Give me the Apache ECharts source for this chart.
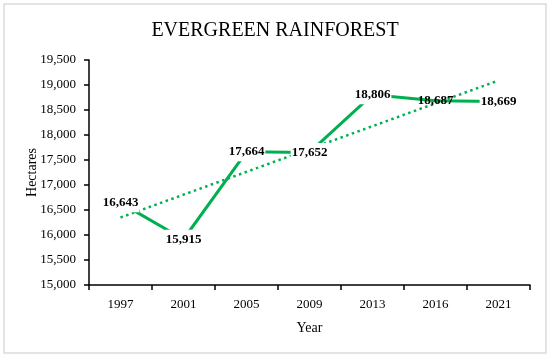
<!DOCTYPE html>
<html>
<head>
<meta charset="utf-8">
<script src="https://cdn.jsdelivr.net/npm/echarts@6/dist/echarts.min.js"></script>
<style>html,body{margin:0;padding:0;background:#fff}#c{width:550px;height:357px}</style>
</head>
<body>
<div id="c"></div>
<script>
const years = ['1997', '2001', '2005', '2009', '2013', '2016', '2021'];
const hectares = [16643, 15915, 17664, 17652, 18806, 18687, 18669];
// linear trendline end values
const trendEnds = [16350, 19090];
const yTicks = { min: 15000, max: 19500, interval: 500 };

const serif = "'Liberation Serif', 'DejaVu Serif', serif";
const green = '#00B050';

const trendData = years.map((y, i) => i === 0 ? trendEnds[0] : (i === years.length - 1 ? trendEnds[1] : '-'));
const lineData = hectares.map((v, i) => ({
  value: v,
  label: i === 5 ? { backgroundColor: 'transparent' } : {}
}));

const chart = echarts.init(document.getElementById('c'));
chart.setOption({
  animation: false,
  backgroundColor: '#fff',
  title: {
    text: 'EVERGREEN RAINFOREST',
    left: 'center',
    top: 16,
    textStyle: { fontFamily: serif, fontSize: 20, fontWeight: 'normal', color: '#000' }
  },
  graphic: [{
    type: 'rect',
    shape: { x: 4, y: 4, width: 542, height: 349 },
    style: { fill: 'none', stroke: '#dcdcdc', lineWidth: 1.5 },
    silent: true, z: -1
  }],
  grid: { left: 89, right: 20, top: 60, bottom: 72, containLabel: false },
  xAxis: {
    type: 'category',
    data: years,
    boundaryGap: true,
    name: 'Year',
    nameLocation: 'middle',
    nameGap: 36,
    nameMoveOverlap: false,
    nameTextStyle: { fontFamily: serif, fontSize: 14, color: '#000' },
    axisLine: { lineStyle: { color: '#000', width: 1.5 } },
    axisTick: { show: true, length: 5, alignWithLabel: false, lineStyle: { color: '#000', width: 1.5 } },
    axisLabel: { fontFamily: serif, fontSize: 13, color: '#000', margin: 13 },
    splitLine: { show: false }
  },
  yAxis: {
    type: 'value',
    min: yTicks.min,
    max: yTicks.max,
    interval: yTicks.interval,
    name: 'Hectares',
    nameLocation: 'middle',
    nameGap: 50,
    nameMoveOverlap: false,
    nameTextStyle: { fontFamily: serif, fontSize: 14, color: '#000' },
    axisLine: { show: true, lineStyle: { color: '#000', width: 1.5 } },
    axisTick: { show: true, length: 5, lineStyle: { color: '#000', width: 1.5 } },
    axisLabel: {
      fontFamily: serif, fontSize: 13, color: '#000', margin: 13,
      formatter: v => v.toLocaleString('en-US')
    },
    splitLine: { show: false }
  },
  series: [
    {
      type: 'line',
      data: trendData,
      connectNulls: true,
      symbol: 'none',
      lineStyle: { color: green, width: 2.5, type: [2.5, 3.5] },
      z: 1
    },
    {
      type: 'line',
      data: lineData,
      symbol: 'circle',
      symbolSize: 1,
      showSymbol: true,
      itemStyle: { color: 'rgba(0,0,0,0)' },
      lineStyle: { color: green, width: 3 },
      label: {
        show: true,
        position: 'inside',
        fontFamily: serif,
        fontSize: 13,
        fontWeight: 'bold',
        color: '#000',
        backgroundColor: '#fff',
        padding: [3, 1],
        formatter: p => Number(p.value).toLocaleString('en-US')
      },
      z: 2
    }
  ]
});
</script>
</body>
</html>
